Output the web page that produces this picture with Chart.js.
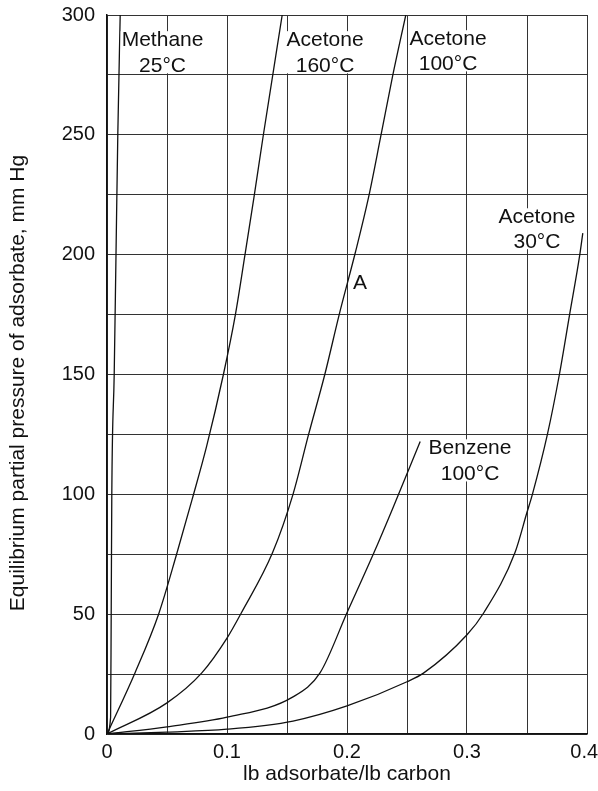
<!DOCTYPE html>
<html>
<head>
<meta charset="utf-8">
<script src="https://cdn.jsdelivr.net/npm/chart.js@4/dist/chart.umd.min.js"></script>
<style>
html,body{margin:0;padding:0;background:#fff;}
canvas{display:block;}
</style>
</head>
<body>
<canvas id="c" width="598" height="791"></canvas>
<script>
// ---- Data (x = lb adsorbate / lb carbon, y = partial pressure mm Hg) ----
const methane25X = [0, 0.003, 0.0035, 0.004, 0.006, 0.0075, 0.009, 0.011];
const methane25Y = [0, 7, 50, 100, 150, 200, 250, 300];

const acetone160X = [0, 0.0233, 0.043, 0.058, 0.071, 0.083, 0.097, 0.107, 0.115, 0.1225, 0.13, 0.146];
const acetone160Y = [0, 25.5, 50, 75, 98, 120, 150, 175, 200, 224, 249, 300];

const acetone100X = [0, 0.05, 0.079, 0.1, 0.112, 0.138, 0.155, 0.168, 0.1815, 0.1935, 0.207, 0.218, 0.228, 0.238, 0.249];
const acetone100Y = [0, 13, 25.5, 40, 50.6, 75.7, 100, 125, 150, 175, 201, 224, 249, 274.5, 300];

const benzene100X = [0, 0.05, 0.1, 0.155, 0.1775, 0.2, 0.2225, 0.238, 0.261];
const benzene100Y = [0, 3, 7, 15.5, 25.5, 50.6, 75.7, 94, 122];

const acetone30X = [0, 0.05, 0.1, 0.155, 0.2, 0.25, 0.264, 0.3, 0.314, 0.34, 0.35, 0.3545, 0.367, 0.377, 0.3855, 0.394, 0.3965];
const acetone30Y = [0, 0.8, 2, 5.4, 11.7, 21.8, 25.5, 41.4, 50.6, 75.7, 92.5, 100, 125, 150, 175, 200, 209];

const seriesNames = ['Methane 25°C', 'Acetone 160°C', 'Acetone 100°C', 'Benzene 100°C', 'Acetone 30°C'];
const seriesX = [methane25X, acetone160X, acetone100X, benzene100X, acetone30X];
const seriesY = [methane25Y, acetone160Y, acetone100Y, benzene100Y, acetone30Y];

const xTickLabels = ['0', '0.1', '0.2', '0.3', '0.4'];
const yTickLabels = ['0', '50', '100', '150', '200', '250', '300'];
const xTitle = 'lb adsorbate/lb carbon';
const yTitle = 'Equilibrium partial pressure of adsorbate, mm Hg';

// Curve labels: text lines and anchor in data coordinates
const labelLines = [['Methane', '25°C'], ['Acetone', '160°C'], ['Acetone', '100°C'], ['Acetone', '30°C'], ['A'], ['Benzene', '100°C']];
const labelX = [0.0463, 0.1817, 0.2842, 0.3583, 0.2108, 0.3025];
const labelY = [[289.5, 278.6], [289.5, 278.6], [289.9, 279.4], [215.6, 205.2], [188.2], [119.2, 108.3]];

// ---- Chart ----
const FONT = "'Liberation Sans', Arial, Helvetica, sans-serif";
const datasets = seriesNames.map((name, i) => ({
  label: name,
  data: seriesX[i].map((x, j) => ({x: x, y: seriesY[i][j]})),
  showLine: true,
  borderColor: '#111',
  borderWidth: 1.3,
  pointRadius: 0,
  fill: false,
  cubicInterpolationMode: 'monotone'
}));

const curveLabels = {
  id: 'curveLabels',
  afterDatasetsDraw(chart) {
    const ctx = chart.ctx;
    const xs = chart.scales.x, ys = chart.scales.y;
    ctx.save();
    ctx.font = '21px ' + FONT;
    ctx.textAlign = 'center';
    ctx.textBaseline = 'middle';
    labelLines.forEach((lines, i) => {
      const px = xs.getPixelForValue(labelX[i]);
      const pys = lines.map((t, k) => ys.getPixelForValue(labelY[i][k]));
      const w = Math.max(...lines.map(t => ctx.measureText(t).width));
      const top = Math.min(...pys) - 9, bot = Math.max(...pys) + 7;
      ctx.fillStyle = '#fff';
      ctx.fillRect(px - w / 2 - 1, top, w + 2, bot - top);
      ctx.fillStyle = '#111';
      lines.forEach((t, k) => ctx.fillText(t, px, pys[k]));
    });
    // y-axis title
    ctx.translate(18, 383);
    ctx.rotate(-Math.PI / 2);
    ctx.fillText(yTitle, 0, 0);
    ctx.restore();
  }
};

new Chart(document.getElementById('c'), {
  type: 'scatter',
  data: {datasets: datasets},
  options: {
    responsive: false,
    animation: false,
    devicePixelRatio: 1,
    layout: {padding: {top: 15, right: 11, left: 0, bottom: 0}},
    plugins: {legend: {display: false}, tooltip: {enabled: false}},
    scales: {
      x: {
        type: 'linear', min: 0, max: 0.4,
        afterFit(s) { s.height = 57; s.paddingLeft = 0; s.paddingRight = 0; },
        ticks: {
          stepSize: 0.05, autoSkip: false, maxRotation: 0, padding: 6,
          color: '#111', font: {family: FONT, size: 20},
          callback(v) {
            const k = Math.round(v * 100);
            if (k % 10 !== 0) return '';
            const t = xTickLabels[k / 10];
            return k === 40 ? t + ' ' : t;
          }
        },
        grid: {color: '#333', lineWidth: 1, drawTicks: false},
        border: {color: '#111', width: 1.5},
        title: {display: true, text: xTitle, color: '#111', font: {family: FONT, size: 21}, padding: {top: 0, bottom: 4}}
      },
      y: {
        type: 'linear', min: 0, max: 300,
        afterFit(s) { s.width = 107; s.paddingTop = 0; s.paddingBottom = 0; },
        ticks: {
          stepSize: 25, autoSkip: false, padding: 12,
          color: '#111', font: {family: FONT, size: 20},
          callback(v) {
            const k = Math.round(v);
            return k % 50 === 0 ? yTickLabels[k / 50] : '';
          }
        },
        grid: {color: '#333', lineWidth: 1, drawTicks: false},
        border: {color: '#111', width: 1.5},
        title: {display: false, text: yTitle}
      }
    }
  },
  plugins: [curveLabels]
});
</script>
</body>
</html>
